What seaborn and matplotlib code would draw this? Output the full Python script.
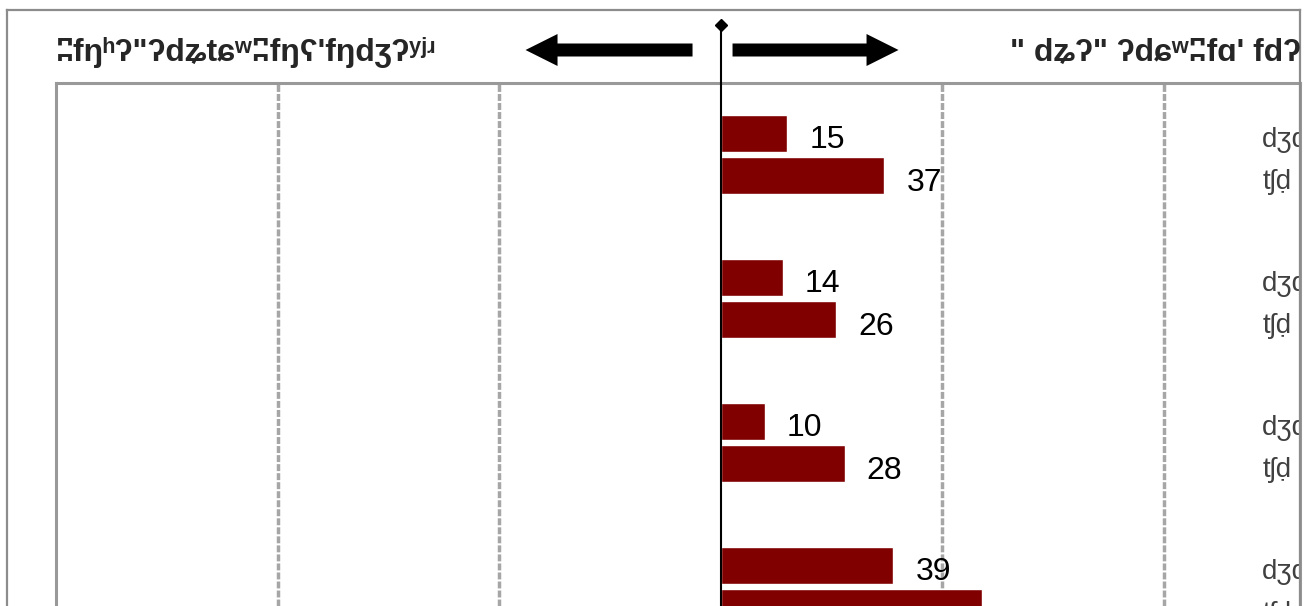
import numpy as np
import pandas as pd
import matplotlib
matplotlib.use('Agg')
import matplotlib.pyplot as plt
import seaborn as sns

# Datos
grupos = ['A', 'B', 'C', 'D']
series = ['dʒɖ', 'tʃḍ']
valores_1 = [15, 14, 10, 39]
valores_2 = [37, 26, 28, 59]
ticks_x = [-100, -50, 50, 100]
titulo_izq = 'ʭfŋʰʔ"ʔdʑtɕʷʭfŋʕ\'fŋdʒʔʸʲʴ'
titulo_der = '" dʑʔ" ʔdɕʷʭfɑ\' fdʔː'

sns.set_style('white')
plt.rcParams['font.family'] = ['Liberation Sans', 'DejaVu Sans']

df = pd.DataFrame({
    'grupo': grupos * 2,
    'serie': [series[0]] * len(grupos) + [series[1]] * len(grupos),
    'valor': valores_1 + valores_2,
})

W, H = 1308, 606
fig = plt.figure(figsize=(W / 100, H / 100), dpi=100)

# Eje principal de barras
ax = fig.add_axes([56 / W, 0, (1300 - 56) / W, (H - 83) / H])
sns.barplot(data=df, x='valor', y='grupo', hue='serie', orient='h',
            palette=['#800000', '#800000'], saturation=1, width=0.59,
            gap=0.13, legend=False, ax=ax)
ax.set_xlim(-150, 130.8)
ax.set_ylim(3.135, -0.4965)
ax.set_xticks(ticks_x)
ax.tick_params(length=0, labelbottom=False, labelleft=False)
ax.grid(axis='x', color='#a6a6a6', lw=2.5, ls=(0, (2, 0.6)))
ax.grid(axis='y', visible=False)
ax.set_xlabel('')
ax.set_ylabel('')
for lado in ['top', 'left', 'right']:
    ax.spines[lado].set_color('#999999')
    ax.spines[lado].set_linewidth(2.2)
ax.spines['bottom'].set_visible(False)

for i, cont in enumerate(ax.containers):
    etiquetas = ax.bar_label(cont, fmt='%g', padding=16, fontsize=23, color='black')
    for et in etiquetas:
        et.set_y(-5)
    for barra in cont:
        yc = barra.get_y() + barra.get_height() / 2
        ax.text(122.3, yc + 0.045, series[i], color='#404040', fontsize=20,
                va='center', ha='left', clip_on=True)

# Capa superior: marco, titulos, flechas y linea central
ov = fig.add_axes([7 / W, 0, (1300 - 7) / W, (H - 10) / H])
ov.set_xlim(7, 1300)
ov.set_ylim(H, 10)
ov.patch.set_alpha(0)
ov.set_xticks([])
ov.set_yticks([])
for lado in ['top', 'left', 'right']:
    ov.spines[lado].set_color('#8c8c8c')
    ov.spines[lado].set_linewidth(1.6)
ov.spines['bottom'].set_visible(False)

ov.text(56, 53, titulo_izq, fontsize=23, fontweight='bold', va='center', ha='left')
ov.text(1010, 53, titulo_der, fontsize=23, fontweight='bold', va='center',
        ha='left', clip_on=True)

x_cero = ov.transData.inverted().transform(ax.transData.transform((0, 0)))[0]
ov.arrow(x_cero - 28, 50, -135, 0, width=13, head_width=32, head_length=32,
         color='black', lw=0)
ov.arrow(x_cero + 12, 50, 134, 0, width=13, head_width=32, head_length=32,
         color='black', lw=0)
ov.plot([x_cero, x_cero], [25, H], color='black', lw=1.5)
ov.plot([x_cero], [25], marker='D', ms=6, color='black')

fig.savefig('out.png', dpi=100)
